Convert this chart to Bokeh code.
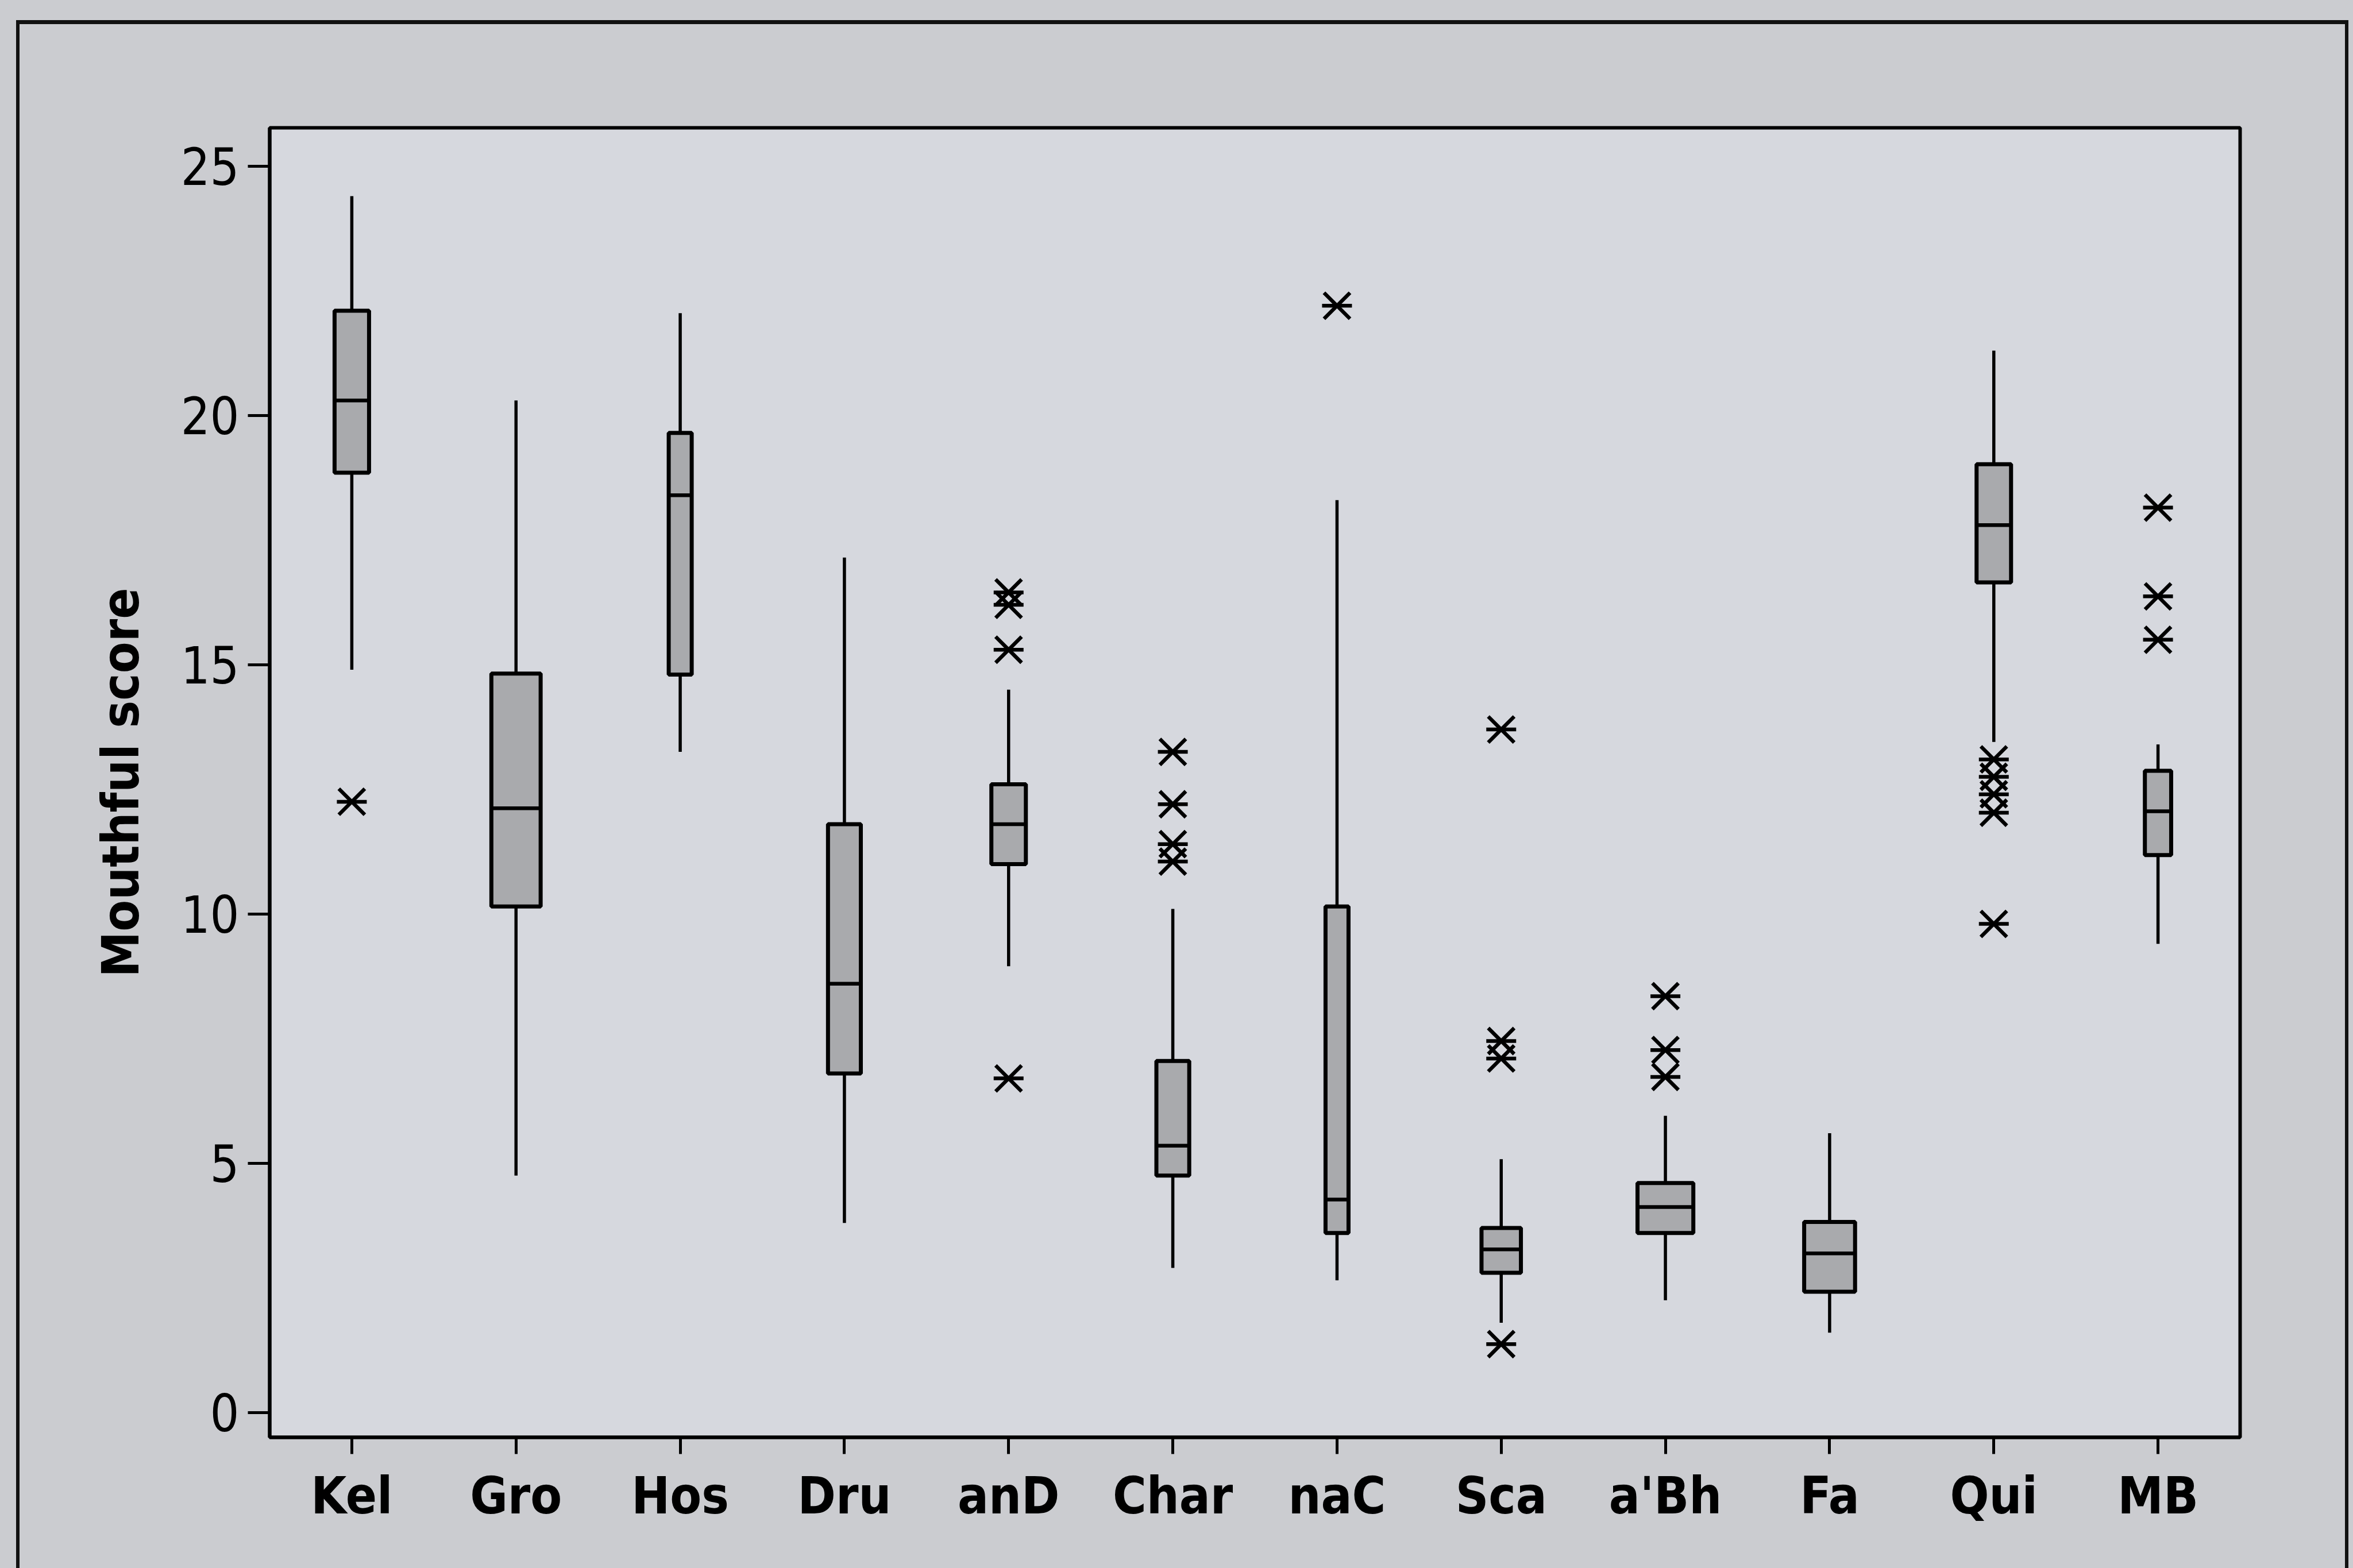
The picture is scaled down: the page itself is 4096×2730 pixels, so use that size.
import math
from bokeh.plotting import figure
from bokeh.models import ColumnDataSource, FactorRange, Range1d, FixedTicker
from bokeh.embed import file_html
from bokeh.resources import INLINE

# ---------------- data ----------------
categories = ["Kel", "Gro", "Hos", "Dru", "anD", "Char", "naC", "Sca", "a'Bh", "Fa", "Qui", "MB"]
whisker_low = [14.9, 4.75, 13.25, 3.8, 8.95, 2.9, 2.65, 1.8, 2.25, 1.6, 13.45, 9.4]
q1 = [18.85, 10.15, 14.8, 6.8, 11.0, 4.75, 3.6, 2.8, 3.6, 2.42, 16.65, 11.18]
median = [20.3, 12.12, 18.4, 8.6, 11.8, 5.35, 4.27, 3.27, 4.12, 3.19, 17.8, 12.06]
q3 = [22.1, 14.82, 19.65, 11.8, 12.6, 7.05, 10.15, 3.7, 4.6, 3.82, 19.02, 12.87]
whisker_high = [24.4, 20.3, 22.05, 17.15, 14.5, 10.1, 18.3, 5.08, 5.95, 5.6, 21.3, 13.4]
box_width = [0.21, 0.30, 0.14, 0.20, 0.21, 0.20, 0.14, 0.24, 0.34, 0.31, 0.21, 0.16]

outlier_cat = ["Kel",
               "anD", "anD", "anD", "anD",
               "Char", "Char", "Char", "Char",
               "naC",
               "Sca", "Sca", "Sca", "Sca",
               "a'Bh", "a'Bh", "a'Bh",
               "Qui", "Qui", "Qui", "Qui", "Qui",
               "MB", "MB", "MB"]
outlier_val = [12.25,
               16.45, 16.2, 15.3, 6.7,
               13.25, 12.2, 11.4, 11.05,
               22.2,
               13.7, 7.45, 7.1, 1.37,
               8.35, 7.27, 6.73,
               13.1, 12.75, 12.4, 12.03, 9.8,
               18.15, 16.37, 15.5]

y_ticks = [0, 5, 10, 15, 20, 25]
y_title = "Mouthful score"

# ---------------- styling ----------------
W, H = 4096, 2730
FONT = "DejaVu Sans Condensed"
OUTER_BG = "#cbccd0"
PLOT_BG = "#d6d8de"
BOX_FILL = "#a9aaad"

p = figure(width=W, height=H, output_backend="svg", toolbar_location=None,
           x_range=FactorRange(factors=categories, range_padding=0),
           y_range=Range1d(-0.5, 25.77),
           min_border_left=469, min_border_right=197,
           min_border_top=222, min_border_bottom=228)

p.background_fill_color = PLOT_BG
p.border_fill_color = None
p.outline_line_color = "black"
p.outline_line_width = 6
p.xgrid.visible = False
p.ygrid.visible = False

# page-like outer frame (top, left and right edges) behind the transparent border
line = "linear-gradient(#111,#111)"
p.styles = {
    "background": (f"{line} 28px 35px / 4060px 7px no-repeat, "
                   f"{line} 28px 35px / 6px 2695px no-repeat, "
                   f"{line} 4082px 35px / 6px 2695px no-repeat, "
                   f"{OUTER_BG}")
}

src = ColumnDataSource(dict(cat=categories, lo=whisker_low, q1=q1, med=median,
                            q3=q3, hi=whisker_high, w=box_width))

# whiskers
p.segment(x0="cat", y0="lo", x1="cat", y1="q1", source=src, line_color="black", line_width=5.5)
p.segment(x0="cat", y0="q3", x1="cat", y1="hi", source=src, line_color="black", line_width=5.5)
# boxes
p.vbar(x="cat", width="w", bottom="q1", top="q3", source=src,
       fill_color=BOX_FILL, line_color="black", line_width=7)
# medians
p.vbar(x="cat", width="w", bottom="med", top="med", source=src,
       fill_color=None, line_color="black", line_width=6.5)

# outliers: horizontal bar + diagonal cross (Minitab-style asterisk)
osrc = ColumnDataSource(dict(cat=outlier_cat, val=outlier_val))
p.scatter(x="cat", y="val", source=osrc, marker="dash", size=52, line_color="black", line_width=6.5)
p.scatter(x="cat", y="val", source=osrc, marker="x", size=64, line_color="black", line_width=6.5)

# axes
yax = p.yaxis[0]
yax.ticker = FixedTicker(ticks=y_ticks)
yax.minor_tick_line_color = None
yax.major_tick_in = 0
yax.major_tick_out = 38
yax.major_tick_line_width = 5
yax.axis_line_width = 6
yax.major_label_text_font = FONT
yax.major_label_text_font_size = "89px"
yax.major_label_text_color = "black"
yax.major_label_standoff = 15
yax.axis_label = y_title
yax.axis_label_text_font = FONT
yax.axis_label_text_font_style = "bold"
yax.axis_label_text_font_size = "89px"
yax.axis_label_text_color = "black"
yax.axis_label_standoff = 50

xax = p.xaxis[0]
xax.major_tick_in = 0
xax.major_tick_out = 29
xax.major_tick_line_width = 5
xax.axis_line_width = 6
xax.minor_tick_line_color = None
xax.major_label_text_font = FONT
xax.major_label_text_font_style = "bold"
xax.major_label_text_font_size = "89px"
xax.major_label_text_color = "black"
xax.major_label_standoff = 20

open("out.html", "w").write(file_html(p, INLINE))
